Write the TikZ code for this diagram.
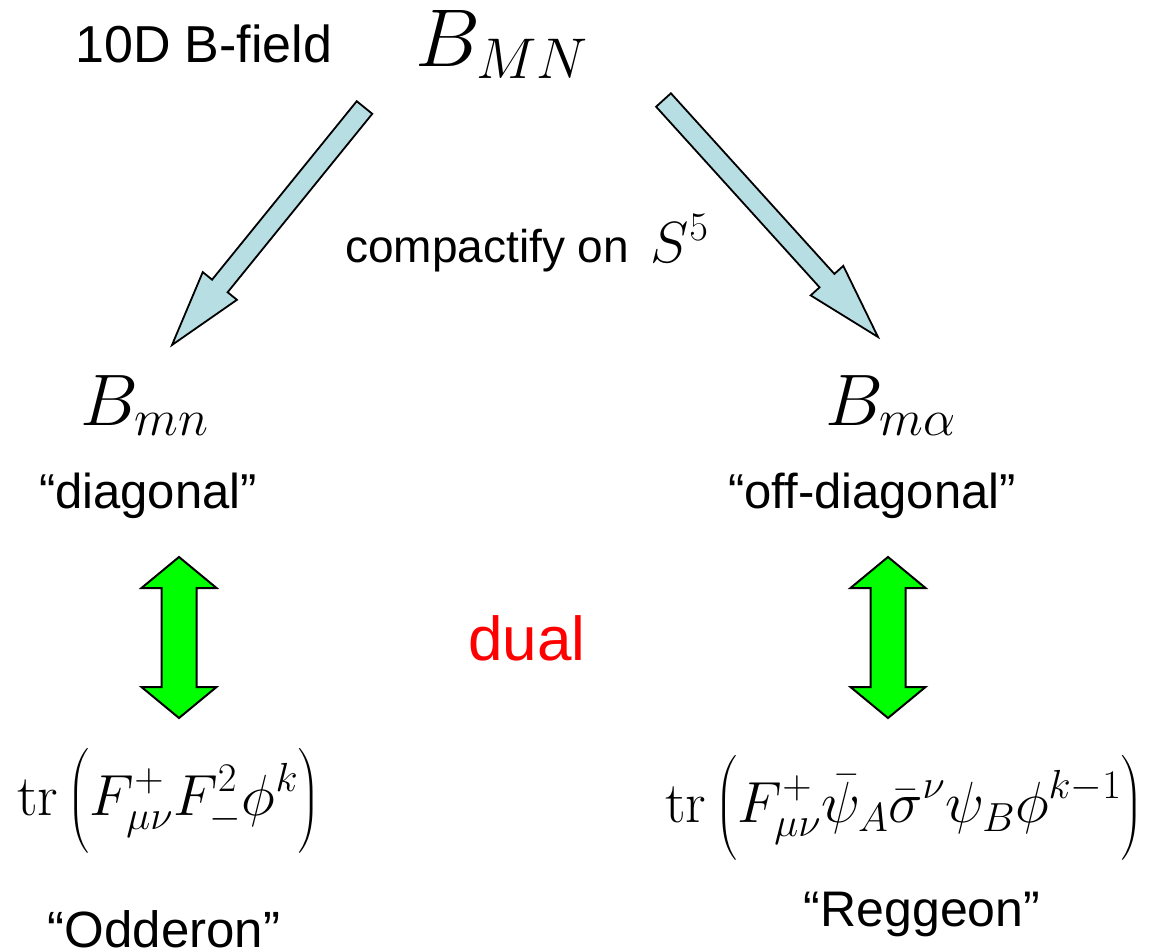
\documentclass[tikz,border=0pt]{standalone}
\usepackage{fix-cm}
\usepackage{amsmath}
\usepackage[no-math]{fontspec}
\setmainfont{Liberation Sans}
\usepackage{tikz}
\usetikzlibrary{calc}

\definecolor{arrowblue}{RGB}{183,222,226}
\definecolor{dualgreen}{RGB}{0,255,0}

\tikzstyle{plaintext} = [
    inner sep=0pt,
    font=\fontsize{49}{59}\selectfont
]
\tikzstyle{bigmath} = [
    inner sep=0pt,
    font=\fontsize{82}{92}\selectfont
]
\tikzstyle{midmath} = [
    inner sep=0pt,
    font=\fontsize{73}{83}\selectfont
]
\tikzstyle{formula} = [
    inner sep=0pt,
    font=\fontsize{58}{64}\selectfont
]
\tikzstyle{dualtext} = [
    inner sep=0pt,
    text=red,
    font=\fontsize{62}{72}\selectfont
]
\tikzstyle{fatarrow} = [draw=black, fill=arrowblue, line width=1.8pt, line join=miter]
\tikzstyle{dualarrow} = [draw=black, fill=dualgreen, line width=2pt, line join=miter]

% single fat arrow from #1 to #2
\newcommand{\bluearrow}[2]{%
  \draw[fatarrow] let \p1=(#1), \p2=(#2),
      \n1={atan2(\y2-\y1,\x2-\x1)}, \n2={veclen(\x2-\x1,\y2-\y1)-76}
    in ($(\p1)+(\n1+90:10pt)$) -- ++(\n1:\n2) -- ++(\n1+90:12pt) -- (\p2)
       -- ($(\p1)+(\n1:\n2)+(\n1-90:22pt)$) -- ++(\n1+90:12pt)
       -- ($(\p1)+(\n1-90:10pt)$) -- cycle;}

% double fat arrow between #1 and #2
\newcommand{\greenarrow}[2]{%
  \draw[dualarrow] let \p1=(#1), \p2=(#2),
      \n1={atan2(\y2-\y1,\x2-\x1)}, \n2={veclen(\x2-\x1,\y2-\y1)-31}
    in (\p1) -- ($(\p1)+(\n1:31pt)+(\n1-90:37.5pt)$) -- ++(\n1+90:20pt)
       -- ($(\p1)+(\n1:\n2)+(\n1-90:17.5pt)$) -- ++(\n1-90:20pt) -- (\p2)
       -- ($(\p1)+(\n1:\n2)+(\n1+90:37.5pt)$) -- ++(\n1-90:20pt)
       -- ($(\p1)+(\n1:31pt)+(\n1+90:17.5pt)$) -- ++(\n1+90:20pt) -- cycle;}

\begin{document}
\begin{tikzpicture}[x=1pt, y=-1pt]

\useasboundingbox (0,0) rectangle (1162,951);

% top
\node (bfield) [plaintext, font=\fontsize{52}{60}\selectfont, anchor=base west] at (75,62) {10D B-field};
\node (bMN) [bigmath, anchor=base west] at (415,66) {$B_{MN}$};
\node (compact) [plaintext, font=\fontsize{46}{56}\selectfont, anchor=base west] at (345,262)
{compactify on\hspace{22pt}{\fontsize{58}{60}\selectfont$S^5$}};

% components
\node (bmn) [midmath, anchor=base west] at (80,425) {$B_{mn}$};
\node (bma) [midmath, anchor=base west] at (825,425) {$B_{m\alpha}$};
\node (diag) [plaintext, anchor=base] at (148,508) {“diagonal”};
\node (offdiag) [plaintext, anchor=base] at (872,508) {“off-diagonal”};

\node (dual) [dualtext, anchor=base] at (527,660) {dual};

% operators
\node (oddop) [formula, anchor=west] at (17,801)
{$\displaystyle \mathrm{tr}\,\Big(F^{+}_{\mu\nu}F^{2}_{-}\phi^{k}\Big)$};
\node (regop) [formula, anchor=west] at (665,808)
{$\displaystyle \mathrm{tr}\,\Big(F^{+}_{\mu\nu}\bar{\psi}_{A}\bar{\sigma}^{\nu}\psi_{B}\phi^{k-1}\Big)$};

\node (odderon) [plaintext, font=\fontsize{51}{60}\selectfont, anchor=base] at (164,947) {“Odderon”};
\node (reggeon) [plaintext, font=\fontsize{50}{60}\selectfont, anchor=base] at (922,926) {“Reggeon”};

% arrows
\coordinate (ltail) at (364.5,107.5);
\coordinate (ltip) at (172,345);
\coordinate (rtail) at (663.5,100);
\coordinate (rtip) at (878,337);
\bluearrow{ltail}{ltip}
\bluearrow{rtail}{rtip}

\coordinate (lup) at (179,557);
\coordinate (ldown) at (179,718);
\coordinate (rup) at (888,557);
\coordinate (rdown) at (888,718);
\greenarrow{lup}{ldown}
\greenarrow{rup}{rdown}

\end{tikzpicture}
\end{document}
